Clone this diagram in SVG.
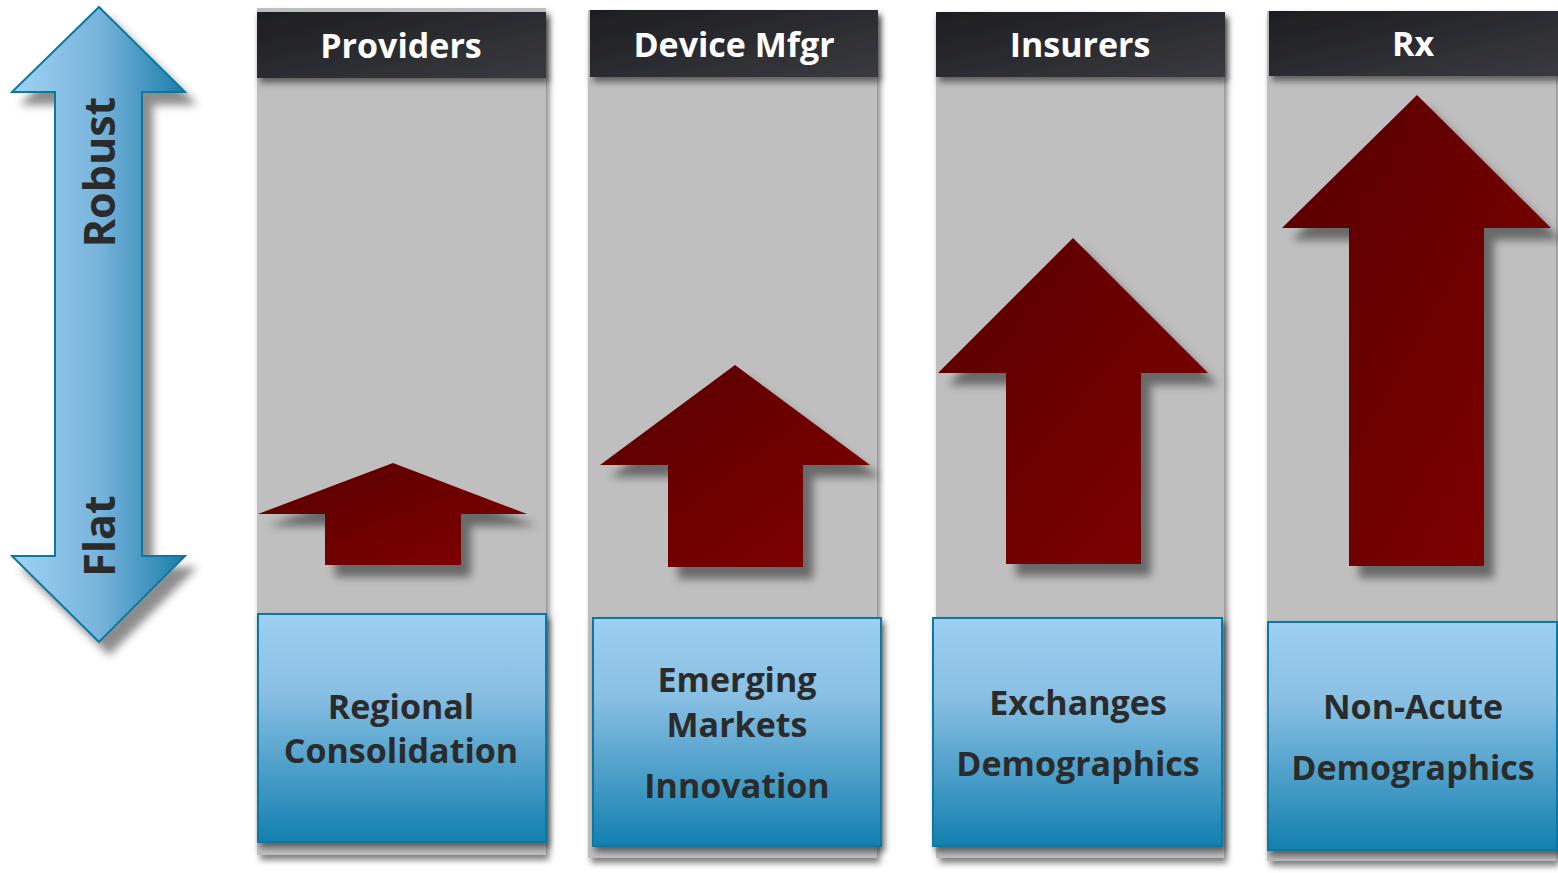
<svg xmlns="http://www.w3.org/2000/svg" width="1558" height="873" viewBox="0 0 1558 873">
<style>
.col{fill:#bfbfbf}
.hdr{fill:url(#gHdr)}
.ht{font-family:"Open Sans","Liberation Sans",sans-serif;font-weight:700;font-size:34px;fill:#ffffff;text-anchor:middle}
.box{fill:url(#gBox);stroke:#11789f;stroke-width:2}
.bt{font-family:"Open Sans","Liberation Sans",sans-serif;font-weight:700;font-size:34px;fill:#2b2b2b;text-anchor:middle}
.ra{fill:url(#gRed);filter:url(#sh)}
.side{font-family:"Open Sans","Liberation Sans",sans-serif;font-weight:700;font-size:43px;fill:#2b2b2b;text-anchor:middle}
</style>
<defs>
<linearGradient id="gHdr" x1="0" y1="0" x2="1" y2="1"><stop offset="0" stop-color="#1d1e21"/><stop offset="1" stop-color="#393a3f"/></linearGradient>
<linearGradient id="gBox" x1="0" y1="0" x2="0" y2="1"><stop offset="0" stop-color="#9dd0f2"/><stop offset="0.35" stop-color="#88bfe3"/><stop offset="1" stop-color="#1380b0"/></linearGradient>
<linearGradient id="gRed" x1="0" y1="0" x2="1" y2="1"><stop offset="0" stop-color="#560000"/><stop offset="1" stop-color="#820000"/></linearGradient>
<linearGradient id="gBlue" x1="0" y1="0" x2="1" y2="0"><stop offset="0" stop-color="#a0d3f3"/><stop offset="0.5" stop-color="#78b4dc"/><stop offset="1" stop-color="#1a7ea9"/></linearGradient>
<filter id="sh" x="-20%" y="-20%" width="150%" height="150%"><feDropShadow dx="10" dy="12" stdDeviation="4" flood-color="#000" flood-opacity="0.45"/></filter>
<filter id="sh2" x="-10%" y="-10%" width="130%" height="130%"><feDropShadow dx="3" dy="5" stdDeviation="3" flood-color="#000" flood-opacity="0.5"/></filter>
</defs>

<g id="scale">
<path d="M99,7 L185,92 L142,92 L142,556 L185,556 L99,642 L12,556 L55,556 L55,92 L12,92 Z" fill="url(#gBlue)" stroke="#10789d" stroke-width="2" filter="url(#sh)"/>
<text class="side" transform="translate(115,172) rotate(-90)">Robust</text>
<text class="side" transform="translate(115,536) rotate(-90)">Flat</text>
</g>

<g id="providers">
<rect class="col" x="257" y="8" width="289" height="847" filter="url(#sh2)"/>
<rect class="hdr" x="257" y="12" width="289" height="66" filter="url(#sh2)"/>
<text class="ht" x="401" y="58">Providers</text>
<path class="ra" d="M393,463 L527,514 L461,514 L461,565 L325,565 L325,514 L258,514 Z"/>
<rect class="box" x="258" y="614" width="288" height="228" filter="url(#sh2)"/>
<text class="bt" x="401" y="719">Regional</text>
<text class="bt" x="401" y="763">Consolidation</text>
</g>

<g id="device">
<rect class="col" x="588" y="10" width="289" height="848" filter="url(#sh2)"/>
<rect class="hdr" x="590" y="10" width="288" height="67" filter="url(#sh2)"/>
<text class="ht" x="734" y="57">Device Mfgr</text>
<path class="ra" d="M735,365 L870,465 L803,465 L803,567 L668,567 L668,465 L600,465 Z"/>
<rect class="box" x="593" y="618" width="288" height="228" filter="url(#sh2)"/>
<text class="bt" x="737" y="692">Emerging</text>
<text class="bt" x="737" y="737">Markets</text>
<text class="bt" x="737" y="798">Innovation</text>
</g>

<g id="insurers">
<rect class="col" x="936" y="12" width="288" height="846" filter="url(#sh2)"/>
<rect class="hdr" x="936" y="12" width="289" height="65" filter="url(#sh2)"/>
<text class="ht" x="1080" y="57">Insurers</text>
<path class="ra" d="M1073,238 L1208,373 L1141,373 L1141,564 L1006,564 L1006,373 L938,373 Z"/>
<rect class="box" x="933" y="618" width="289" height="228" filter="url(#sh2)"/>
<text class="bt" x="1078" y="715">Exchanges</text>
<text class="bt" x="1078" y="776">Demographics</text>
</g>

<g id="rx">
<rect class="col" x="1267" y="11" width="289" height="850" filter="url(#sh2)"/>
<rect class="hdr" x="1269" y="11" width="289" height="65" filter="url(#sh2)"/>
<text class="ht" x="1413" y="56">Rx</text>
<path class="ra" d="M1417,95 L1551,228 L1484,228 L1484,566 L1349,566 L1349,228 L1282,228 Z"/>
<rect class="box" x="1268" y="622" width="289" height="228" filter="url(#sh2)"/>
<text class="bt" x="1413" y="719">Non-Acute</text>
<text class="bt" x="1413" y="780">Demographics</text>
</g>

<g id="connectors"></g>
</svg>
